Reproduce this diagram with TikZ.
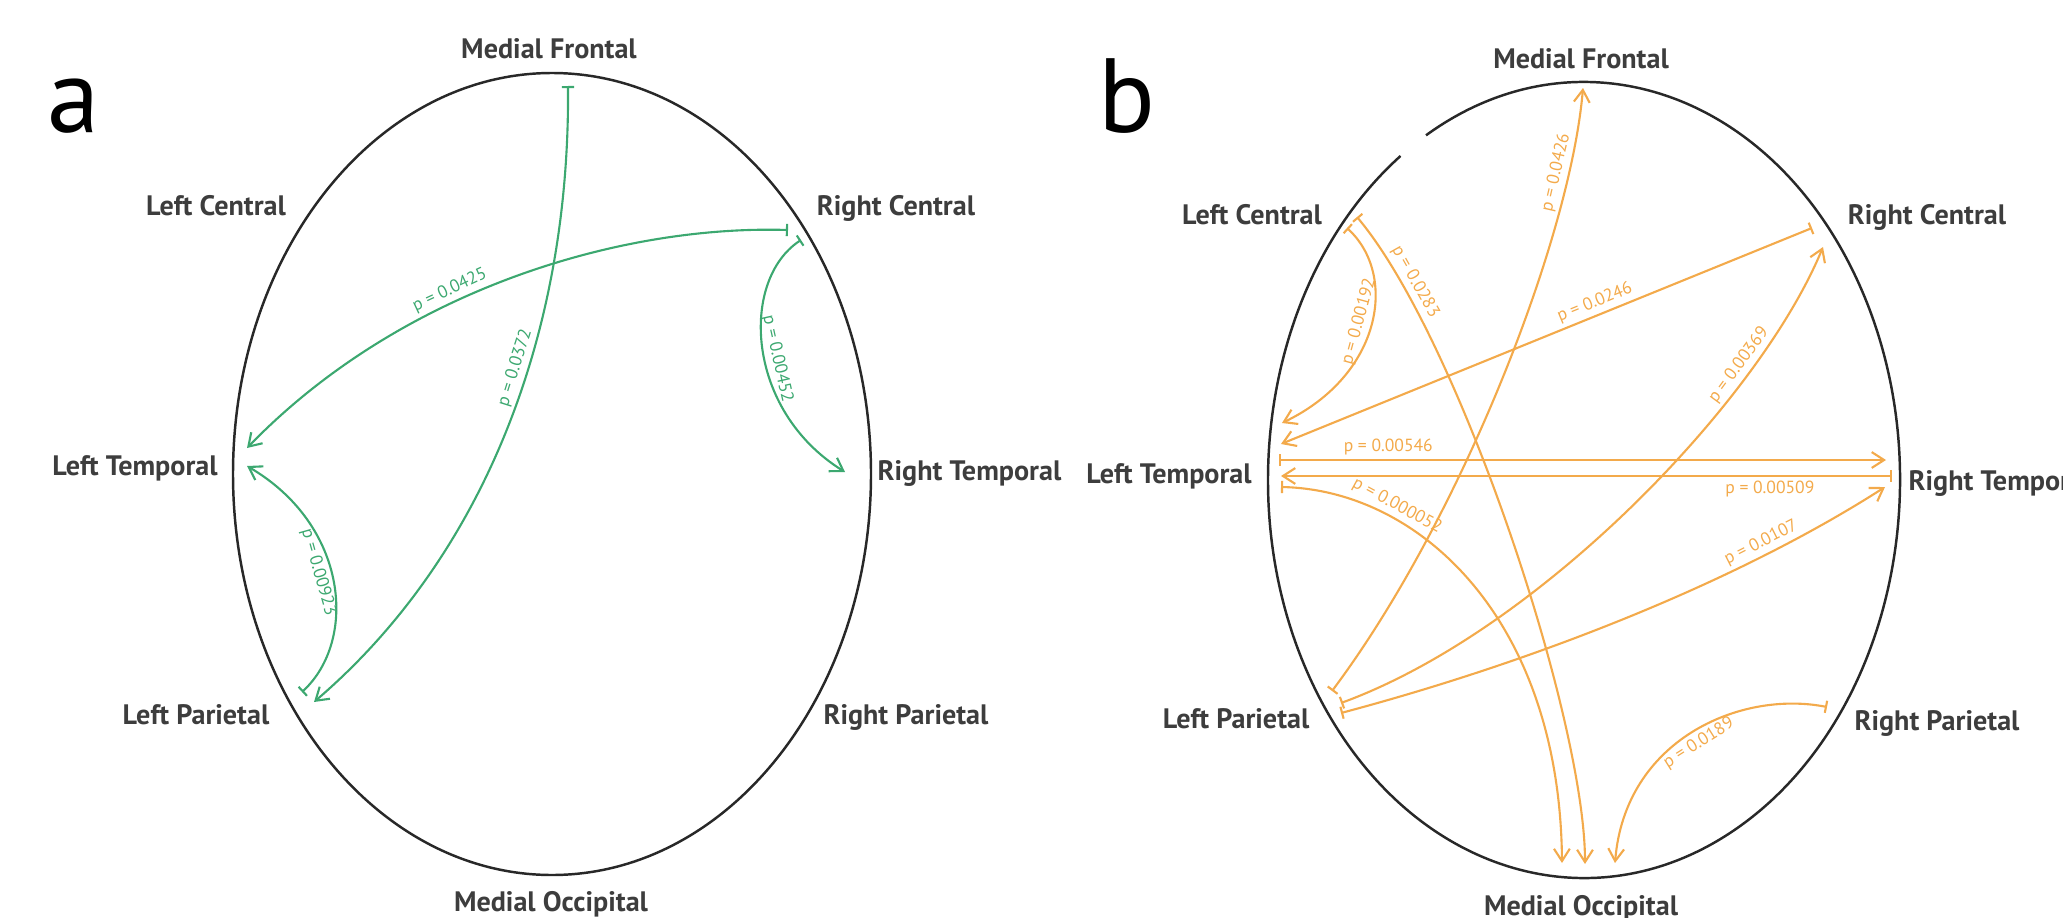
\documentclass[tikz,border=0pt]{standalone}
\usepackage{fontspec}
\setmainfont{PT Sans}
\usetikzlibrary{arrows.meta}
\definecolor{linkgreen}{RGB}{60,168,112}
\definecolor{linkorange}{RGB}{243,170,75}
\definecolor{headgray}{RGB}{40,40,40}
\tikzstyle{region} = [anchor=base, 
inner sep=0pt,
font=\bfseries\fontsize{8}{10}\selectfont,
text=headgray!90]
\tikzstyle{paneltag} = [anchor=base, inner sep=0pt,
font=\fontsize{30}{30}\selectfont]
\tikzstyle{head} = [draw=headgray, line width=0.7pt]
\tikzstyle{pval} = [sloped, inner sep=1pt,
font=\fontsize{5}{6}\selectfont]
\tikzstyle{linkA} = [color=linkgreen, line width=0.6pt,
{Bar[width=3.5pt]}-{Straight Barb[length=3.5pt,width=4.5pt]}]
\tikzstyle{linkB} = [color=linkorange, line width=0.6pt,
{Bar[width=3.5pt]}-{Straight Barb[length=3.5pt,width=4.5pt]}]

\begin{document}
\begin{tikzpicture}[x=0.01cm, y=-0.01cm]
\useasboundingbox (0,0) rectangle (2063,918);
\clip (0,0) rectangle (2063,918);

% panel a
\node (tagA) [paneltag] at (74,132) {a};
\draw [head] (552,474) ellipse [x radius=319, y radius=401];
\node (aMF) [region] at (549,58) {Medial Frontal};
\node (aLC) [region] at (216,215) {Left Central};
\node (aRC) [region] at (896,215) {Right Central};
\node (aLT) [region] at (135,475) {Left Temporal};
\node (aRT) [region, anchor=base west] at (877,480) {Right Temporal};
\node (aLP) [region] at (196,724) {Left Parietal};
\node (aRP) [region] at (906,724) {Right Parietal};
\node (aMO) [region] at (551,911) {Medial Occipital};

\coordinate (aMF1) at (568,86);
\coordinate (aLP1) at (314,702);
\coordinate (aRC1) at (788,230);
\coordinate (aLT1) at (247,448);
\coordinate (aRC2) at (801,240);
\coordinate (aRT1) at (845,472);
\coordinate (aLP2) at (302,692);
\coordinate (aLT2) at (247,466);

\draw [linkA] (aMF1) .. controls (570,340) and (480,560) .. (aLP1) node [pval, pos=0.4, above] {p = 0.0372};
\draw [linkA] (aRC1) .. controls (620,225) and (400,290) .. (aLT1) node [pval, pos=0.6, above] {p = 0.0425};
\draw [linkA] (aRC2) .. controls (740,280) and (745,410) .. (aRT1) node [pval, pos=0.55, above] {p = 0.00452};
\draw [linkA] (aLP2) .. controls (358,640) and (348,525) .. (aLT2) node [pval, pos=0.55, below] {p = 0.00923};

% panel b
\node (tagB) [paneltag] at (1127,132) {b};
\draw [head] (1584,480) ++(240:316 and 398) arc [start angle=240, end angle=594.5, x radius=316, y radius=398];
\node (bMF) [region] at (1581,68) {Medial Frontal};
\node (bLC) [region] at (1252,224) {Left Central};
\node (bRC) [region] at (1927,224) {Right Central};
\node (bLT) [region] at (1169,483) {Left Temporal};
\node (bRT) [region, anchor=base west] at (1908,490) {Right Temporal};
\node (bLP) [region] at (1236,728) {Left Parietal};
\node (bRP) [region] at (1937,730) {Right Parietal};
\node (bMO) [region] at (1581,915) {Medial Occipital};

\coordinate (bMF1) at (1583,88);
\coordinate (bLC1) at (1357,217);
\coordinate (bLC2) at (1347,228);
\coordinate (bRC1) at (1812,228);
\coordinate (bRC2) at (1823,247);
\coordinate (bLT1) at (1282,423);
\coordinate (bLT2) at (1281,444);
\coordinate (bLT3) at (1279,460);
\coordinate (bLT4) at (1281,476);
\coordinate (bLT5) at (1281,487);
\coordinate (bRT1) at (1886,460);
\coordinate (bRT2) at (1892,476);
\coordinate (bRT3) at (1885,487);
\coordinate (bLP1) at (1332,691);
\coordinate (bLP2) at (1341,703);
\coordinate (bLP3) at (1341,713);
\coordinate (bRP1) at (1827,707);
\coordinate (bMO1) at (1562,863);
\coordinate (bMO2) at (1585,864);
\coordinate (bMO3) at (1615,863);

\draw [linkB] (bLP1) .. controls (1460,520) and (1570,240) .. (bMF1) node [pval, pos=0.83, above] {p = 0.0426};
\draw [linkB] (bLC1) .. controls (1460,340) and (1585,720) .. (bMO2) node [pval, pos=0.15, above] {p = 0.0283};
\draw [linkB] (bLC2) .. controls (1398,275) and (1382,375) .. (bLT1) node [pval, pos=0.5, above] {p = 0.00192};
\draw [linkB] (bRC1) -- (bLT2) node [pval, pos=0.4, above] {p = 0.0246};
\draw [linkB] (bLT3) -- (bRT1) node [pval, pos=0.18, above] {p = 0.00546};
\draw [linkB] (bRT2) -- (bLT4) node [pval, pos=0.2, below] {p = 0.00509};
\draw [linkB] (bLT5) .. controls (1420,490) and (1560,620) .. (bMO1) node [pval, pos=0.27, above] {p = 0.000052};
\draw [linkB] (bLP2) .. controls (1540,630) and (1760,400) .. (bRC2) node [pval, pos=0.75, above] {p = 0.00369};
\draw [linkB] (bLP3) .. controls (1540,660) and (1740,580) .. (bRT3) node [pval, pos=0.75, above] {p = 0.0107};
\draw [linkB] (bRP1) .. controls (1740,690) and (1625,740) .. (bMO3) node [pval, pos=0.5, below] {p = 0.0189};
\end{tikzpicture}
\end{document}
